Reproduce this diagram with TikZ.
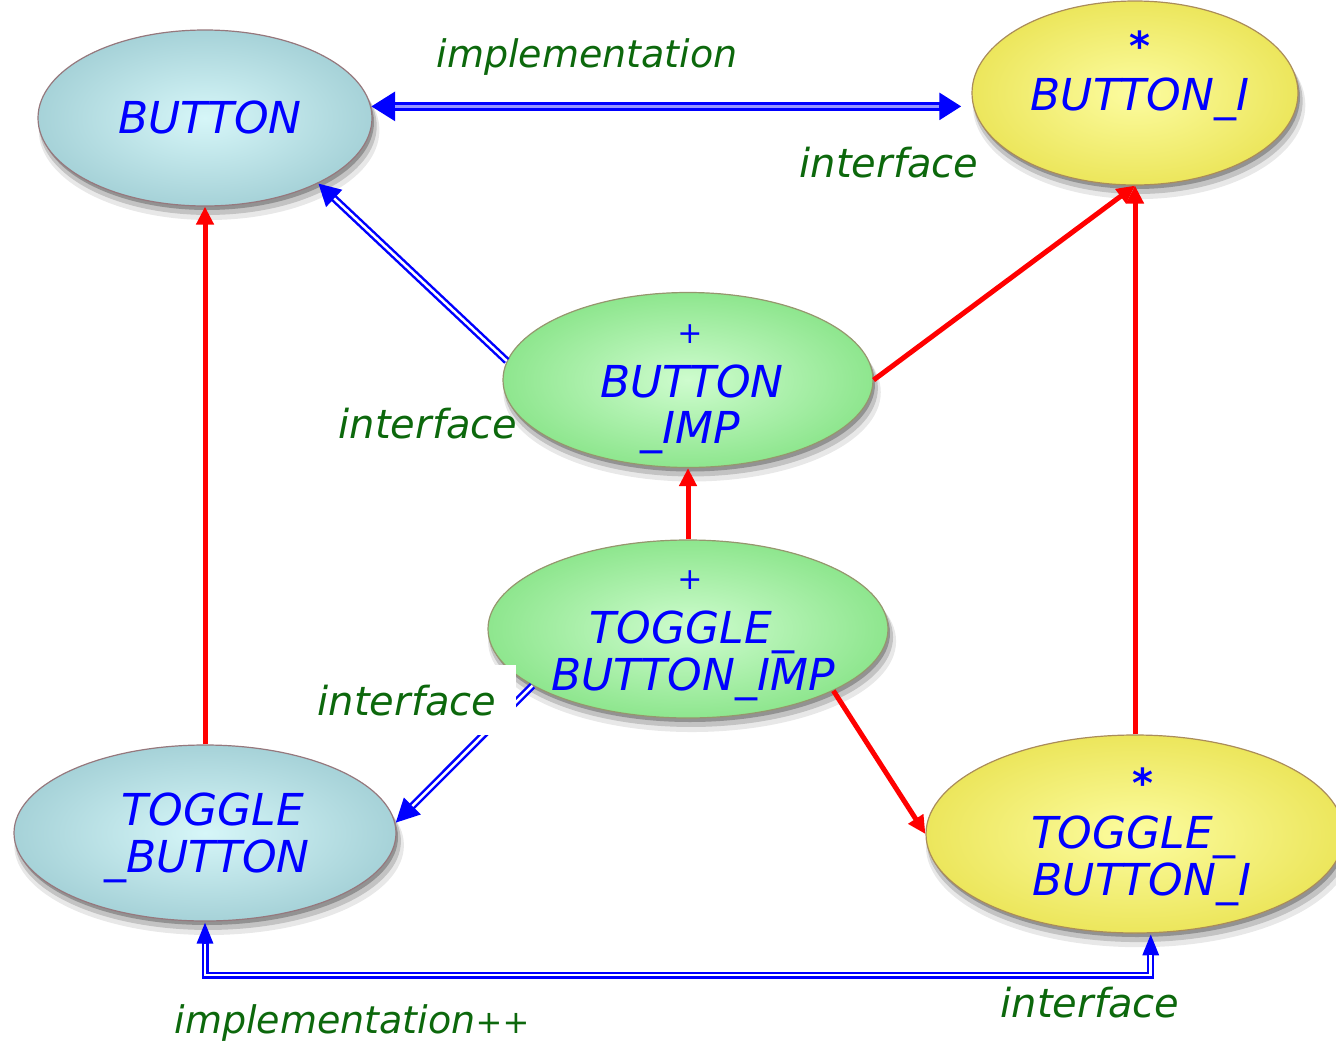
\documentclass[tikz,border=0pt]{standalone}
\usepackage{fontspec}
\setmainfont{DejaVu Sans}
\usetikzlibrary{arrows.meta,shapes.geometric,shadows}

\definecolor{lblgreen}{RGB}{12,104,12}
\definecolor{clsblue}{RGB}{0,0,255}
\definecolor{pipe}{RGB}{150,150,255}
\definecolor{cyanin}{RGB}{214,246,248}
\definecolor{cyanout}{RGB}{166,210,216}
\definecolor{cyanrim}{RGB}{150,120,125}
\definecolor{yelin}{RGB}{252,252,160}
\definecolor{yelout}{RGB}{236,230,92}
\definecolor{yelrim}{RGB}{170,140,90}
\definecolor{grnin}{RGB}{206,252,206}
\definecolor{grnout}{RGB}{142,230,142}
\definecolor{grnrim}{RGB}{150,150,110}

\tikzset{
  cls/.style={ellipse, inner sep=0pt, line width=1.2pt, shading=radial,
    general shadow={shadow xshift=2pt, shadow yshift=-4pt, opacity=0.25, fill=black},
    general shadow={shadow xshift=3pt, shadow yshift=-8pt, shadow scale=1.01, opacity=0.16, fill=black},
    general shadow={shadow xshift=4pt, shadow yshift=-12pt, shadow scale=1.02, opacity=0.09, fill=black}},
  effective/.style={cls, draw=cyanrim, inner color=cyanin, outer color=cyanout},
  deferred/.style={cls, draw=yelrim, inner color=yelin, outer color=yelout},
  impl/.style={cls, draw=grnrim, inner color=grnin, outer color=grnout},
  clsname/.style={anchor=base, inner sep=0pt, text=clsblue,
    font=\fontsize{44}{44}\selectfont\itshape},
  clsplus/.style={anchor=base, inner sep=0pt, text=clsblue,
    font=\fontsize{30}{30}\selectfont\itshape},
  clsstar/.style={anchor=base, inner sep=0pt, text=clsblue,
    font=\fontsize{40}{40}\selectfont\bfseries\itshape},
  rel/.style={anchor=base, inner sep=0pt, text=lblgreen,
    font=\fontsize{40}{40}\selectfont\itshape},
  relimpl/.style={rel, font=\fontsize{38}{38}\selectfont\itshape},
  inherit/.style={draw=red, line width=5pt,
    -{Triangle[length=18pt,width=17pt]}},
  clientout/.style={draw=clsblue, line width=7.5pt},
  clientin/.style={draw=white, line width=2.5pt},
}

\begin{document}
\begin{tikzpicture}[x=1pt, y=-1pt]
\useasboundingbox (0,0) rectangle (1336,1044);

% classes
\node[effective, minimum width=334pt, minimum height=176pt] (btn)   at (205,118) {};
\node[deferred,  minimum width=326pt, minimum height=184pt] (bi)    at (1135,93) {};
\node[impl,      minimum width=370pt, minimum height=175pt] (bimp)  at (688,380) {};
\node[impl,      minimum width=400pt, minimum height=178pt] (tbimp) at (688,629) {};
\node[effective, minimum width=382pt, minimum height=176pt] (tb)    at (205,833) {};
\node[deferred,  minimum width=418pt, minimum height=198pt] (tbi)   at (1135,834) {};

% class names
\node[clsname] (btn-n) at (210,133) {BUTTON};
\node[clsstar] (bi-m) at (1140,60) {*};
\node[clsname] (bi-n) at (1140,110) {BUTTON\_I};
\node[clsplus] (bimp-m) at (690,343) {+};
\node[clsname] (bimp-n1) at (692,397) {BUTTON};
\node[clsname] (bimp-n2) at (690,443) {\_IMP};
\node[clsplus] (tbimp-m) at (690,589) {+};
\node[clsname] (tbimp-n1) at (692,643) {TOGGLE\_};
\node[clsname] (tbimp-n2) at (693,690) {BUTTON\_IMP};
\node[clsname] (tb-n1) at (213,825) {TOGGLE};
\node[clsname] (tb-n2) at (207,872) {\_BUTTON};
\node[clsstar] (tbi-m) at (1143,797) {*};
\node[clsname] (tbi-n1) at (1133,848) {TOGGLE\_};
\node[clsname] (tbi-n2) at (1142,895) {BUTTON\_I};

% inheritance links
\draw[inherit] (tb.north) -- (btn.south);
\draw[inherit] (tbi.north) -- (bi.south);
\draw[inherit] (bimp.east) -- (bi.south);
\draw[inherit] (tbimp.north) -- (bimp.south);
\draw[inherit] (tbimp.-23) -- (tbi.west);

% client links (double lines)
\draw[draw=clsblue, line width=9pt, shorten >=10pt,
  {Triangle[length=24pt,width=28pt]}-{Triangle[length=22pt,width=26pt]}]
  (btn.4.8) -- (btn.4.8 -| bi.west);
\draw[draw=pipe, line width=3pt, shorten <=24pt, shorten >=32pt]
  (btn.4.8) -- (btn.4.8 -| bi.west);

\draw[clientout, -{Triangle[length=22pt,width=22pt]}] (bimp.174.2) -- (btn.-30);
\draw[clientin, shorten >=22pt] (bimp.174.2) -- (btn.-30);

\draw[clientout, -{Triangle[length=24pt,width=22pt]}] (tbimp.200) -- (tb.3);
\draw[clientin, shorten >=24pt] (tbimp.200) -- (tb.3);

\coordinate (bus) at (0,975);
\draw[draw=clsblue, line width=7pt, line join=miter,
  {Triangle[length=22pt,width=15pt]}-{Triangle[length=22pt,width=15pt]}]
  (tb.south) -- (tb.south |- bus) -| (tbi.-81.5);
\draw[clientin, line join=miter, shorten <=22pt, shorten >=22pt]
  (tb.south) -- (tb.south |- bus) -| (tbi.-81.5);

% relation labels
\node[relimpl] (l-impl) at (587,67) {implementation};
\node[rel] (l-if1) at (889,177) {interface};
\node[rel] (l-if2) at (428,438) {interface};
\node[fill=white, minimum width=205pt, minimum height=70pt, inner sep=0pt] (l-if3-bg) at (413,700) {};
\node[rel] (l-if3) at (407,715) {interface};
\node[relimpl] (l-impl2) at (352,1033) {implementation{\fontsize{32}{32}\selectfont++}};
\node[rel] (l-if4) at (1090,1017) {interface};
\end{tikzpicture}
\end{document}
